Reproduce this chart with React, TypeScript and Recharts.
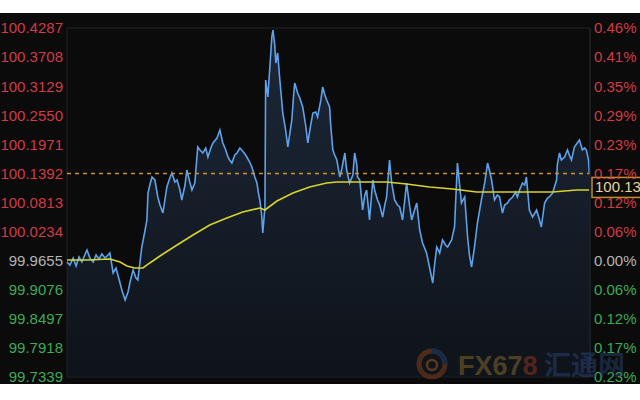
import React from 'react';
import {
  ComposedChart,
  Area,
  Line,
  XAxis,
  YAxis,
  CartesianGrid,
  ReferenceLine,
} from 'recharts';

// minutes into the session
const priceTimes = [
  0, 8, 17, 25, 33, 41, 50, 55, 63, 72, 80, 88, 96, 105, 113, 118, 127, 135, 146, 151,
  160, 168, 173, 182, 190, 195, 206, 215, 220, 223, 228, 234, 242, 250, 256, 264, 275, 283, 289, 297,
  303, 311, 316, 325, 330, 338, 344, 352, 360, 366, 374, 382, 388, 396, 402, 413, 421, 429, 437, 443,
  448, 454, 462, 468, 476, 481, 490, 495, 503, 509, 517, 523, 528, 531, 536, 539, 545, 547, 553, 558,
  564, 567, 572, 575, 580, 586, 591, 594, 602, 608, 613, 619, 624, 627, 635, 641, 649, 657, 663, 671,
  677, 685, 690, 699, 704, 710, 715, 723, 726, 732, 737, 743, 751, 756, 765, 770, 778, 787, 792, 798,
  800, 806, 814, 820, 825, 833, 842, 847, 855, 861, 869, 875, 880, 888, 894, 902, 910, 916, 924, 930,
  935, 943, 949, 957, 963, 971, 979, 990, 998, 1007, 1012, 1018, 1026, 1034, 1042, 1048, 1059, 1067, 1075, 1081,
  1086, 1095, 1103, 1108, 1114, 1122, 1130, 1141, 1150, 1158, 1163, 1169, 1177, 1185, 1191, 1199, 1205, 1213, 1218, 1227,
  1235, 1240, 1246, 1254, 1260, 1265, 1273, 1282, 1293, 1301, 1306, 1315, 1323, 1328, 1337, 1348, 1350, 1356, 1361, 1370,
  1378, 1383, 1389, 1397, 1405, 1411, 1419, 1425, 1430, 1436, 1438,
];

const priceValues = [
  99.9629, 99.9569, 99.9708, 99.9549, 99.9728, 99.9629, 99.9788, 99.9867, 99.9708, 99.9629,
  99.9768, 99.9688, 99.9788, 99.9708, 99.9768, 99.9808, 99.941, 99.9509, 99.9211, 99.9071,
  99.8872, 99.9031, 99.9211, 99.9469, 99.931, 99.927, 99.9927, 100.0266, 100.0465, 100.1002,
  100.1161, 100.1321, 100.1261, 100.0923, 100.0763, 100.0604, 100.1122, 100.1301, 100.14, 100.1221,
  100.1261, 100.1062, 100.0863, 100.1161, 100.146, 100.1221, 100.1062, 100.1201, 100.1918, 100.1858,
  100.1799, 100.1898, 100.1719, 100.1898, 100.1998, 100.2097, 100.2256, 100.1998, 100.1858, 100.1719,
  100.1659, 100.1599, 100.1759, 100.1799, 100.1898, 100.1858, 100.1779, 100.1719, 100.1619, 100.152,
  100.1321, 100.1201, 100.0962, 100.0863, 100.0564, 100.0206, 100.0724, 100.3252, 100.2913, 100.3451,
  100.4108, 100.4247, 100.3949, 100.359, 100.3789, 100.3252, 100.2854, 100.2595, 100.2256, 100.1918,
  100.2157, 100.2456, 100.2953, 100.3192, 100.2993, 100.2893, 100.2714, 100.2356, 100.1998, 100.2356,
  100.2595, 100.2615, 100.2515, 100.2854, 100.3112, 100.2953, 100.2854, 100.2714, 100.2356, 100.1858,
  100.1759, 100.1659, 100.1321, 100.146, 100.1799, 100.146, 100.1201, 100.1361, 100.1799, 100.156,
  100.1321, 100.1261, 100.0664, 100.0962, 100.1062, 100.0465, 100.1261, 100.1062, 100.0863, 100.0763,
  100.0524, 100.0763, 100.0923, 100.1659, 100.1201, 100.0863, 100.0763, 100.0724, 100.0465, 100.0863,
  100.1201, 100.0763, 100.0465, 100.0664, 100.0803, 100.0266, 100.0007, 99.9808, 99.9529, 99.9211,
  99.9569, 99.9927, 99.9808, 100.0067, 99.9967, 99.9927, 100.0067, 100.0325, 100.1599, 100.1161,
  100.0803, 100.0923, 100.0126, 99.9768, 99.9529, 99.9927, 100.0405, 100.0863, 100.1201, 100.1599,
  100.146, 100.1261, 100.0863, 100.0962, 100.0923, 100.0604, 100.0763, 100.0803, 100.0863, 100.0923,
  100.1022, 100.0923, 100.1062, 100.1201, 100.1161, 100.1321, 100.0664, 100.0524, 100.0664, 100.0465,
  100.0325, 100.0803, 100.0903, 100.0923, 100.1002, 100.1261, 100.156, 100.1799, 100.1659, 100.1719,
  100.1858, 100.1759, 100.1659, 100.1918, 100.1998, 100.2057, 100.1858, 100.1898, 100.1858, 100.1659,
  100.14,
];

const avgTimes = [
  0, 55, 118, 146, 165, 187, 209, 228, 256, 303, 347, 393, 440, 484, 531, 545,
  578, 622, 668, 715, 743, 806, 880, 935, 998, 1062, 1128, 1199, 1265, 1337, 1403, 1438,
];
const avgValues = [
  99.9668, 99.9668, 99.9688, 99.9629, 99.9549, 99.9509, 99.9509, 99.9609, 99.9748, 99.9967,
  100.0166, 100.0365, 100.0505, 100.0624, 100.0704, 100.0664, 100.0843, 100.1002, 100.1122, 100.1201,
  100.1221, 100.1221, 100.1221, 100.1181, 100.1122, 100.1082, 100.1022, 100.1022, 100.1022, 100.1022,
  100.1062, 100.1062,
];

const priceTicks = [
  99.7339, 99.7918, 99.8497, 99.9076, 99.9655, 100.0234, 100.0813, 100.1392, 100.1971,
  100.255, 100.3129, 100.3708, 100.4287,
];
const priceTickLabels = [
  '99.7339', '99.7918', '99.8497', '99.9076', '99.9655', '100.0234', '100.0813', '100.1392',
  '100.1971', '100.2550', '100.3129', '100.3708', '100.4287',
];
const pctTickLabels = [
  '0.23%', '0.17%', '0.12%', '0.06%', '0.00%', '0.06%', '0.12%', '0.17%', '0.23%',
  '0.29%', '0.35%', '0.41%', '0.46%',
];
const timeTicks = [0, 180, 360, 540, 720, 900, 1080, 1260, 1440];

const markLine = 100.1392;
const lastLabel = '100.13';

const priceData = priceTimes.map((t, i) => ({ t, price: priceValues[i] }));
const avgData = avgTimes.map((t, i) => ({ t, avg: avgValues[i] }));

const FONT = '"Liberation Sans", Arial, sans-serif';
const RED = '#d23a44';
const GREEN = '#3daa55';
const GREY = '#b4b4b4';

// index 4 is the previous close (0.00%)
const tickColor = (i: number) => {
  if (i === 4) return GREY;
  return i > 4 ? RED : GREEN;
};

const LeftTick = (props: any) => {
  const { x, y, index } = props;
  return (
    <text x={x} y={y} dy="0.36em" textAnchor="end" fill={tickColor(index)} fontSize={15} fontFamily={FONT}>
      {priceTickLabels[index]}
    </text>
  );
};

const RightTick = (props: any) => {
  const { x, y, index } = props;
  return (
    <text x={x} y={y} dy="0.36em" textAnchor="start" fill={tickColor(index)} fontSize={15} fontFamily={FONT}>
      {pctTickLabels[index]}
    </text>
  );
};

const LastBox = (props: any) => {
  const { viewBox } = props;
  if (!viewBox) return null;
  const bx = viewBox.x + viewBox.width + 2;
  const by = viewBox.y + 4;
  return (
    <g>
      <rect x={bx} y={by} width={52} height={20} fill="#0b0b0b" stroke="#c48a2c" strokeWidth={1.5} />
      <text x={bx + 3} y={by + 15} fill="#e6d49a" fontSize={15} fontFamily={FONT}>
        {lastLabel}
      </text>
    </g>
  );
};

const Watermark = () => (
  <svg width={230} height={40} style={{ position: 'absolute', left: 412, top: 344 }}>
    <g opacity={0.42}>
      <circle cx={20} cy={20} r={13} fill="none" stroke="#a04a1e" strokeWidth={5} />
      <path d="M 20 7 A 13 13 0 0 1 33 20" fill="none" stroke="#2a4a80" strokeWidth={5} />
      <circle cx={20} cy={21} r={5} fill="none" stroke="#c06a20" strokeWidth={2.5} />
      <text x={46} y={31} fontSize={27} fontWeight="bold" fontFamily={FONT} fill="#a07a30">
        FX67
        <tspan fill="#b0401e">8</tspan>
      </text>
      <text x={132} y={31} fontSize={27} fontWeight="bold" fontFamily='"Noto Sans CJK SC", sans-serif' fill="#2c4e86">
        汇通网
      </text>
    </g>
  </svg>
);

export default function App() {
  return (
    <div style={{ position: 'absolute', left: 0, top: 0, width: 640, height: 400, background: '#fff' }}>
      <div style={{ position: 'absolute', left: 0, top: 13, width: 640, height: 371, background: '#0b0b0b' }}>
        <ComposedChart width={640} height={371} margin={{ top: 15, right: 0, bottom: 7, left: 0 }}>
          <defs>
            <linearGradient id="priceFill" x1="0" y1="0" x2="0" y2="1">
              <stop offset="0%" stopColor="#2c4262" stopOpacity={0.85} />
              <stop offset="100%" stopColor="#121a26" stopOpacity={0.9} />
            </linearGradient>
          </defs>
          <CartesianGrid stroke="#222428" strokeWidth={1} />
          <XAxis
            dataKey="t"
            type="number"
            domain={[0, 1440]}
            ticks={timeTicks}
            height={0}
            tick={false}
            axisLine={false}
            tickLine={false}
            allowDuplicatedCategory={false}
          />
          <YAxis
            yAxisId="left"
            orientation="left"
            width={67}
            domain={[priceTicks[0], priceTicks[priceTicks.length - 1]]}
            ticks={priceTicks}
            tick={<LeftTick />}
            tickSize={2}
            tickMargin={2}
            axisLine={false}
            tickLine={false}
            interval={0}
            allowDataOverflow
          />
          <YAxis
            yAxisId="right"
            orientation="right"
            width={50}
            domain={[priceTicks[0], priceTicks[priceTicks.length - 1]]}
            ticks={priceTicks}
            tick={<RightTick />}
            tickSize={2}
            tickMargin={2}
            axisLine={{ stroke: '#222428' }}
            tickLine={false}
            interval={0}
            allowDataOverflow
          />
          <Area
            yAxisId="left"
            data={priceData}
            dataKey="price"
            type="linear"
            stroke="#5fa2ec"
            strokeWidth={1.6}
            fill="url(#priceFill)"
            baseValue={priceTicks[0]}
            dot={false}
            activeDot={false}
            isAnimationActive={false}
          />
          <Line
            yAxisId="left"
            data={avgData}
            dataKey="avg"
            type="linear"
            stroke="#d6d42c"
            strokeWidth={1.6}
            dot={false}
            activeDot={false}
            isAnimationActive={false}
          />
          <ReferenceLine
            yAxisId="left"
            y={markLine}
            stroke="#d0902e"
            strokeDasharray="4 4"
            strokeWidth={1.5}
            label={<LastBox />}
          />
        </ComposedChart>
        <div style={{ position: 'absolute', left: 0, top: -13 }}>
          <Watermark />
        </div>
      </div>
    </div>
  );
}
